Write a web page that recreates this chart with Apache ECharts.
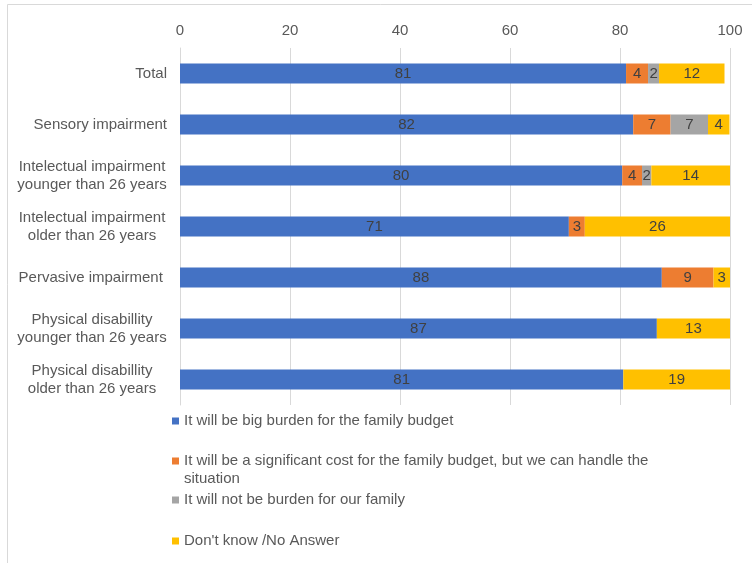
<!DOCTYPE html>
<html>
<head>
<meta charset="utf-8">
<script src="https://cdn.jsdelivr.net/npm/echarts@6/dist/echarts.min.js"></script>
<style>
html,body{margin:0;padding:0;background:#fff;}
#chart{width:752px;height:563px;}
</style>
</head>
<body>
<div id="chart"></div>
<script>
const categories = [
  "Total",
  "Sensory impairment",
  "Intelectual impairment\nyounger than 26 years",
  "Intelectual impairment\nolder than 26 years",
  "Pervasive impairment ",
  "Physical disabillity\nyounger than 26 years",
  "Physical disabillity\nolder than 26 years"
];
const seriesNames = [
  "It will be big burden for the family budget",
  "It will be a significant cost for the family budget, but we can handle the situation",
  "It will not be burden for our family",
  "Don't know /No Answer"
];
const bigBurden = [81.1, 82.4, 80.4, 70.7, 87.6, 86.7, 80.6];
const significantCost = [4.0, 6.8, 3.6, 2.9, 9.4, 0, 0];
const notBurden = [2.0, 6.8, 1.7, 0, 0, 0, 0];
const dontKnow = [11.9, 3.9, 14.3, 26.4, 3.0, 13.3, 19.4];
const xTicks = [0, 20, 40, 60, 80, 100];

const colors = ["#4472C4", "#ED7D31", "#A5A5A5", "#FFC000"];
const values = [bigBurden, significantCost, notBurden, dontKnow];
const FONT = "'Liberation Sans', Arial, sans-serif";
const TXT = "#595959";
const legendTops = [412, 452, 491, 532];
// icon for the two-line legend entry: 7x7 square aligned with the first text line
const topLineIcon = 'path://M0,5.5L7,5.5L7,12.5L0,12.5ZM0,0L0.01,0M0,36L0.01,36';

const chart = echarts.init(document.getElementById('chart'), null, {renderer: 'canvas'});

const series = seriesNames.map((name, i) => ({
  name: name,
  type: 'bar',
  stack: 'total',
  barWidth: 20,
  itemStyle: {color: colors[i]},
  label: {
    show: true,
    position: 'inside',
    color: '#404040',
    fontSize: 15,
    fontFamily: FONT,
    formatter: p => (p.value > 0 ? String(Math.round(p.value)) : '')
  },
  emphasis: {disabled: true},
  data: values[i]
}));

const legends = seriesNames.map((name, i) => ({
  orient: 'vertical',
  left: 172,
  top: legendTops[i],
  padding: 0,
  itemWidth: 7,
  itemHeight: i === 1 ? 36 : 7,
  itemGap: 0,
  icon: i === 1 ? topLineIcon : 'rect',
  selectedMode: false,
  data: [name],
  textStyle: {
    color: TXT,
    fontSize: 15,
    fontFamily: FONT,
    width: 480,
    lineHeight: 18,
    overflow: 'break'
  }
}));

chart.setOption({
  animation: false,
  backgroundColor: '#fff',
  textStyle: {fontFamily: FONT},
  graphic: [{
    type: 'rect',
    shape: {x: 7.5, y: 4.5, width: 800, height: 700},
    style: {fill: 'none', stroke: '#d9d9d9', lineWidth: 1},
    silent: true
  }],
  grid: {left: 180, right: 22, top: 48, bottom: 158},
  legend: legends,
  xAxis: {
    type: 'value',
    position: 'top',
    min: xTicks[0],
    max: xTicks[xTicks.length - 1],
    interval: xTicks[1] - xTicks[0],
    axisLine: {show: false},
    axisTick: {show: false},
    splitLine: {lineStyle: {color: '#d9d9d9', width: 1}},
    axisLabel: {color: TXT, fontSize: 15, fontFamily: FONT, margin: 10}
  },
  yAxis: {
    type: 'category',
    inverse: true,
    data: categories,
    axisLine: {show: true, lineStyle: {color: '#d9d9d9', width: 1}},
    axisTick: {show: false},
    axisLabel: {
      color: TXT,
      fontSize: 15,
      fontFamily: FONT,
      margin: 13,
      lineHeight: 18,
      formatter: v => v.indexOf('\n') >= 0
        ? v.split('\n').map(l => '{c|' + l + '}').join('\n')
        : v,
      rich: {
        c: {width: 150, align: 'center', color: TXT, fontSize: 15, fontFamily: FONT, lineHeight: 18}
      }
    }
  },
  series: series
});
</script>
</body>
</html>
